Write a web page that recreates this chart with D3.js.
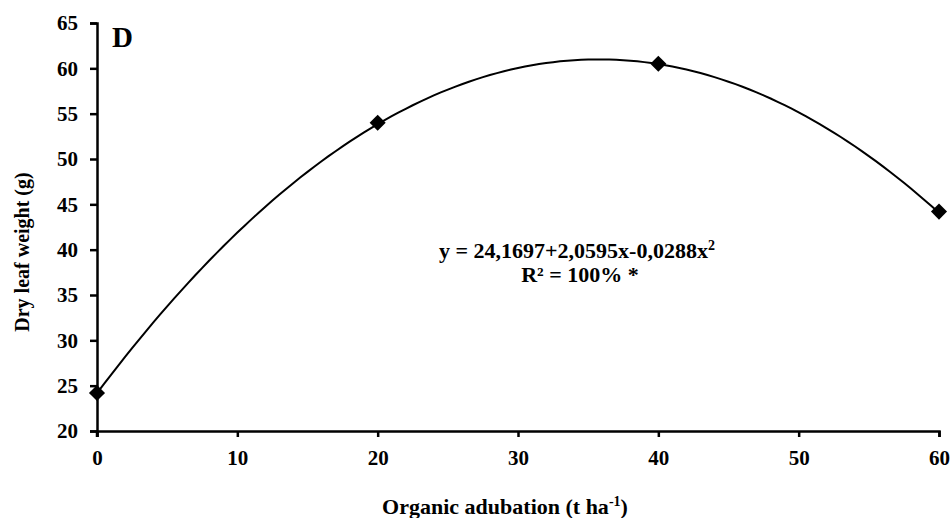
<!DOCTYPE html>
<html>
<head>
<meta charset="utf-8">
<script src="https://cdn.jsdelivr.net/npm/d3@7"></script>
<style>
  body { margin: 0; background: #fff; }
  svg { display: block; }
  text { font-family: "Liberation Serif", "Times New Roman", serif; font-weight: bold; fill: #000; }
</style>
</head>
<body>
<div id="chart"></div>
<script>
// observed doses (t/ha) and dry leaf weight (g)
const doses = [0, 20, 40, 60];
const leafWeight = [24.2, 54.0, 60.5, 44.2];

// fitted quadratic shown on the chart: y = a + b x + c x^2
const coefficients = [24.1697, 2.0595, -0.0288];

const xTicks = [0, 10, 20, 30, 40, 50, 60];
const yTicks = [20, 25, 30, 35, 40, 45, 50, 55, 60, 65];

const width = 952;
const height = 518;
const margin = { top: 23, right: 13, bottom: 87, left: 97 };

const svg = d3.select('#chart').append('svg')
  .attr('width', width)
  .attr('height', height);

const x = d3.scaleLinear().domain([0, 60]).range([margin.left, width - margin.right]);
const y = d3.scaleLinear().domain([20, 65]).range([height - margin.bottom, margin.top]);

// axes
const xAxis = svg.append('g')
  .attr('transform', `translate(0,${height - margin.bottom})`)
  .call(d3.axisBottom(x).tickValues(xTicks).tickSize(6).tickSizeOuter(6).tickPadding(12));

const yAxis = svg.append('g')
  .attr('transform', `translate(${margin.left},0)`)
  .call(d3.axisLeft(y).tickValues(yTicks).tickSize(7).tickSizeOuter(7).tickPadding(12));

[xAxis, yAxis].forEach(g => {
  g.selectAll('path, line').attr('stroke', '#000').attr('stroke-width', 2.5);
  g.selectAll('text').attr('font-size', 21).style('font-family', '"Liberation Serif", serif').style('font-weight', 'bold');
});
xAxis.selectAll('text').attr('dy', '0.75em');

// y axis extends slightly below the x axis
svg.append('line')
  .attr('x1', margin.left).attr('x2', margin.left)
  .attr('y1', height - margin.bottom).attr('y2', height - margin.bottom + 6)
  .attr('stroke', '#000').attr('stroke-width', 2.5);

// fitted curve
const fit = v => coefficients[0] + coefficients[1] * v + coefficients[2] * v * v;
const curveX = d3.range(0, 60.01, 0.5);
svg.append('path')
  .datum(curveX)
  .attr('fill', 'none')
  .attr('stroke', '#000')
  .attr('stroke-width', 2)
  .attr('d', d3.line().x(d => x(d)).y(d => y(fit(d))));

// diamond markers
svg.append('g')
  .selectAll('path')
  .data(doses.map((d, i) => ({ dose: d, value: leafWeight[i] })))
  .join('path')
  .attr('transform', d => `translate(${x(d.dose)},${y(d.value)})`)
  .attr('d', d3.symbol(d3.symbolDiamond2, 165))
  .attr('fill', '#000');

// panel label
svg.append('text')
  .attr('x', 112).attr('y', 47)
  .attr('font-size', 29)
  .text('D');

// equation
const eq = svg.append('text')
  .attr('x', 577).attr('y', 258)
  .attr('text-anchor', 'middle')
  .attr('font-size', 22);
eq.append('tspan').text('y = 24,1697+2,0595x-0,0288x');
eq.append('tspan').attr('dy', -8).attr('font-size', 14).text('2');

svg.append('text')
  .attr('x', 580).attr('y', 282)
  .attr('text-anchor', 'middle')
  .attr('font-size', 22)
  .text('R² = 100% *');

// axis titles
const xTitle = svg.append('text')
  .attr('x', 505).attr('y', 514)
  .attr('text-anchor', 'middle')
  .attr('font-size', 22);
xTitle.append('tspan').text('Organic adubation (t ha');
xTitle.append('tspan').attr('dy', -8).attr('font-size', 14).text('-1');
xTitle.append('tspan').attr('dy', 8).text(')');

svg.append('text')
  .attr('transform', 'translate(29,252) rotate(-90)')
  .attr('text-anchor', 'middle')
  .attr('font-size', 20)
  .text('Dry leaf weight (g)');
</script>
</body>
</html>
